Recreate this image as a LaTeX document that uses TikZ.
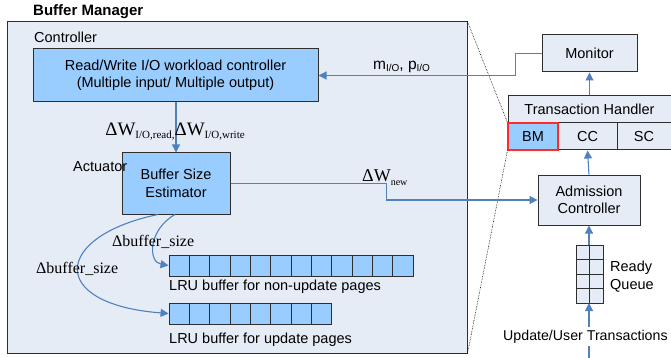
\documentclass[tikz,border=0pt]{standalone}
\usepackage{fontspec}
\setmainfont{Liberation Sans}
\newfontfamily\tms{Liberation Serif}
\usetikzlibrary{arrows.meta,calc}
\definecolor{bgc}{HTML}{E6ECF6}
\definecolor{boxc}{HTML}{99CCFF}
\definecolor{lblue}{HTML}{4F81BD}
\definecolor{edge}{HTML}{2E2E2E}
\definecolor{redc}{HTML}{FF2A2A}
\begin{document}
\begin{tikzpicture}[x=1pt,y=-1pt,
  every node/.style={font=\fontsize{14.5}{17.5}\selectfont, inner sep=0pt},
  bluebox/.style={draw=edge, line width=1pt, fill=boxc, align=center},
  greybox/.style={draw=edge, line width=1pt, fill=bgc, align=center},
  cell/.style={draw=edge, line width=0.9pt, fill=boxc, minimum width=20.33pt, minimum height=21pt},
  qcell/.style={draw=edge, line width=0.9pt, fill=bgc, minimum width=13.5pt, minimum height=14.5pt},
  conn/.style={draw=lblue, line width=1.1pt, -{Triangle[length=8pt,width=8pt]}},
  dots/.style={draw=black, line width=0.6pt, densely dotted}]
\useasboundingbox (0,0) rectangle (671,358);
\fill[white] (0,0) rectangle (671,358);

% Buffer manager outer box
\node[greybox, minimum width=460pt, minimum height=331pt] (bm) at (237,187.5) {};
\node[anchor=base west, font=\bfseries\fontsize{15}{17}\selectfont] (title) at (33,15.5) {Buffer Manager};
\node[anchor=base west] (ctrllab) at (34,43) {Controller};

% controller and estimator
\node[bluebox, minimum width=285pt, minimum height=53pt] (ctrl) at (175.5,75.5)
  {Read/Write I/O workload controller\\(Multiple input/ Multiple output)};
\node[bluebox, minimum width=108pt, minimum height=61pt] (est) at (176,183.5)
  {Buffer Size\\Estimator};
\node[anchor=base west] (actlab) at (73,171.5) {Actuator};

% LRU buffers
\foreach \i in {0,...,11} {
  \node[cell] (nu\i) at ({169+10.17+20.33*\i},265.5) {};
}
\foreach \i in {0,...,7} {
  \node[cell] (up\i) at ({169+10.17+20.33*\i},313.5) {};
}
\node[anchor=base west] (nulab) at (169,290) {LRU buffer for non-update pages};
\node[anchor=base west] (uplab) at (169,343) {LRU buffer for update pages};

% right side
\node[greybox, minimum width=95pt, minimum height=37pt] (mon) at (589.5,53.5) {Monitor};
\node[greybox, minimum width=163pt, minimum height=27pt] (th) at (589.5,109.5) {Transaction Handler};
\node[greybox, minimum width=59pt, minimum height=27pt] (cc) at (587.5,136.5) {CC};
\node[greybox, minimum width=54pt, minimum height=27pt] (sc) at (644,136.5) {SC};
\node[draw=redc, line width=1.2pt, fill=boxc, minimum width=50pt, minimum height=27pt] (bmc) at (533,136.5) {BM};
\node[greybox, minimum width=102pt, minimum height=50pt] (adm) at (589,200) {Admission\\Controller};

% ready queue
\foreach \r in {0,...,3} {
  \node[qcell] (qa\r) at (582.75,{252.25+14.5*\r}) {};
  \node[qcell] (qb\r) at (596.25,{252.25+14.5*\r}) {};
}
\node[anchor=base west] (rdy) at (610,271) {Ready};
\node[anchor=base west] (que) at (610,289) {Queue};
\coordinate (qtop) at (589,245);
\coordinate (qbot) at (589,303);
\coordinate (src) at (589,360);

% dotted zoom lines
\draw[dots] (bm.north east) -- (bmc.north west);
\draw[dots] (bmc.south west) -- (bm.south east);

% connectors
\draw[conn] (ctrl.south -| est.north) -- (est.north);
\draw[conn] (mon.west) -- ++(-26,0) |- (ctrl.east);
\draw[conn] (est.east) -- ++(156,0) |- (adm.west);
\draw[conn] (th.north) -- (mon.south);
\draw[conn] (adm.north) -- (cc.south);
\draw[conn] (qtop) -- (adm.south);
\draw[conn] (src) -- (qbot);
\draw[conn] ([xshift=-1pt]est.south) .. controls (148,230) and (148,262) .. (nu0.west);
\draw[conn] ([xshift=-18pt]est.south) .. controls (54,236) and (46,304) .. (up0.west);

% labels
\node[anchor=base, font=\tms\fontsize{19}{19}\selectfont] (wlab) at (175,135.5)
  {ΔW\raisebox{-2.5pt}{\fontsize{11}{11}\selectfont I/O,read,}ΔW\raisebox{-2.5pt}{\fontsize{11}{11}\selectfont I/O,write}};
\node[anchor=base west, font=\fontsize{15.5}{16}\selectfont] (mplab) at (373,70)
  {m\raisebox{-2pt}{\fontsize{10}{10}\selectfont I/O}, p\raisebox{-2pt}{\fontsize{10}{10}\selectfont I/O}};
\node[anchor=base west, font=\tms\fontsize{18}{18}\selectfont] (wnew) at (362,182)
  {ΔW\raisebox{-3pt}{\fontsize{10}{10}\selectfont new}};
\node[anchor=base west, font=\tms\fontsize{16}{16}\selectfont] (bs1) at (112,246) {Δbuffer\_size};
\node[anchor=base west, font=\tms\fontsize{16}{16}\selectfont] (bs2) at (36,273) {Δbuffer\_size};
\node[anchor=base west, fill=white, inner ysep=3pt, inner xsep=0pt, font=\fontsize{14.2}{17}\selectfont] (utr) at (503,340.5) {Update/User Transactions};
\end{tikzpicture}
\end{document}
